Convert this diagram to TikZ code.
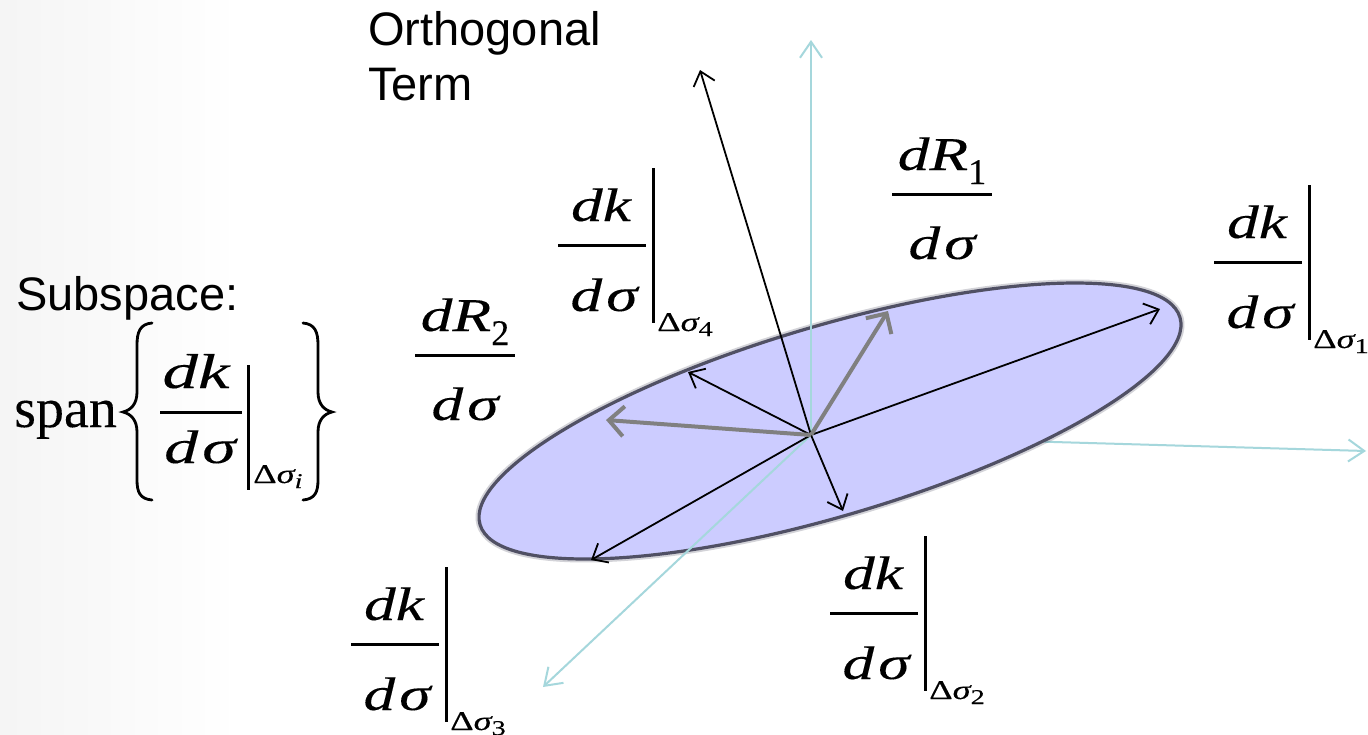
\documentclass[tikz,border=0pt]{standalone}
\usepackage{fontspec}
\usetikzlibrary{arrows.meta}
\newfontfamily\arialf{Liberation Sans}
\newfontfamily\tnr[FakeBold=0.15]{Liberation Serif}
\newfontfamily\tnrs[FakeStretch=1.35,FakeBold=0.2]{Liberation Serif}
\newfontfamily\tnrsb[FakeStretch=1.45,FakeBold=0.2]{Liberation Serif}
\definecolor{lav}{RGB}{204,204,255}
\definecolor{rim}{RGB}{80,80,100}
\definecolor{axc}{RGB}{165,215,220}
\definecolor{vgray}{RGB}{128,128,128}
\tikzset{
 mtit/.style={inner sep=0, font=\tnrs\itshape\fontsize{47}{50}\selectfont},
 mtsub/.style={inner sep=0, font=\tnrs\fontsize{27}{30}\selectfont},
 fracbar/.style={line width=3pt, line cap=butt},
 lbl/.style={inner sep=0, font=\arialf\fontsize{47}{55}\selectfont, align=left},
 vec/.style={line width=1.8pt, -{Straight Barb[length=13pt,width=22pt]}},
 rvec/.style={vgray, line width=4pt, -{Straight Barb[length=15pt,width=30pt]}},
 axisv/.style={axc, line width=2pt, -{Straight Barb[length=16pt,width=22pt]}},
 bracepath/.style={line width=2.8pt, line cap=round},
 dkfrac/.pic={
   \node[mtit, anchor=base] (-num) at (-1,-24) {dk};
   \node[mtit, anchor=base] (-den) at (2,66) {d\kern4pt σ};
   \draw[fracbar] (-44,0) -- (44,0);
   \draw[fracbar] (51,-77) -- (51,78);
   \node[mtsub, anchor=base west] (-sub) at (55,86) {Δ{\itshape σ}\raisebox{-5pt}{\fontsize{21}{22}\selectfont #1}};
 },
 dRfrac/.pic={
   \node[mtit, anchor=base] (-num) at (0,-24) {dR\raisebox{-14pt}{\tnr\upshape\fontsize{36}{40}\selectfont #1}};
   \node[mtit, anchor=base] (-den) at (0,65) {d\kern4pt σ};
   \draw[fracbar] (-50,0) -- (50,0);
 },
}
\begin{document}
\begin{tikzpicture}[x=1pt,y=-1pt]
\useasboundingbox (0,0) rectangle (1368,734);
\fill[white] (0,0) rectangle (1368,734);
\shade[left color=black!4, right color=white] (0,0) rectangle (240,734);

\coordinate (O) at (811,435);
\coordinate (axR) at (1366,451);
\coordinate (axU) at (811,40);
\coordinate (axD) at (543,687);
\draw[axisv] (O) -- (axR);

\draw[rim, line width=7pt, opacity=0.25, rotate around={16.5:(830,421)}] (830,421) ellipse [x radius=365, y radius=95];
\filldraw[fill=lav, draw=rim, line width=3.2pt, rotate around={16.5:(830,421)}] (830,421) ellipse [x radius=365, y radius=95];

\draw[axisv] (O) -- (axU);
\draw[axisv] (O) -- (axD);

\coordinate (t1) at (1160,309);
\coordinate (t2) at (843,511);
\coordinate (t3) at (591,560);
\coordinate (t4) at (688,372);
\coordinate (tO) at (700,70);
\coordinate (r1) at (888,311);
\coordinate (r2) at (606,420);
\draw[vec] (O) -- (tO);
\draw[vec] (O) -- (t1);
\draw[vec] (O) -- (t2);
\draw[vec] (O) -- (t3);
\draw[vec] (O) -- (t4);
\draw[rvec] (O) -- (r1);
\draw[rvec] (O) -- (r2);

\node[lbl, anchor=base west] (orth) at (368,100) {Orthogonal\\Term};
\node[lbl, anchor=base west] (subsp) at (16,310) {Subspace:};

\pic (k1) at (1258,262) {dkfrac=1};
\pic (k2) at (874,613) {dkfrac=2};
\pic (k3) at (395,644) {dkfrac=3};
\pic (k4) at (602,245) {dkfrac=4};
\pic (R1) at (942,194) {dRfrac=1};
\pic (R2) at (465,355) {dRfrac=2};

\node[inner sep=0, anchor=base west, font=\tnr\fontsize{56}{60}\selectfont] (span) at (14,427) {span};
\draw[bracepath] (152,323) .. controls (140,324) and (137,332) .. (137,345) -- (137,392) .. controls (137,404) and (131,410) .. (123,412) .. controls (131,414) and (137,420) .. (137,432) -- (137,480) .. controls (137,492) and (140,499) .. (152,500);
\draw[bracepath] (303,323) .. controls (315,324) and (318,332) .. (318,345) -- (318,392) .. controls (318,404) and (324,410) .. (332,412) .. controls (324,414) and (318,420) .. (318,432) -- (318,480) .. controls (318,492) and (315,499) .. (303,500);
\node[inner sep=0, anchor=base, font=\tnrsb\itshape\fontsize{49}{52}\selectfont] (spnum) at (196,388) {dk};
\node[inner sep=0, anchor=base, font=\tnrsb\itshape\fontsize{47}{52}\selectfont] (spden) at (200,463) {d\kern4pt σ};
\draw[fracbar] (160,412) -- (242,412);
\draw[fracbar] (248,365) -- (248,490);
\node[mtsub, anchor=base west] (spsub) at (253,483) {Δ{\itshape σ}\raisebox{-5pt}{\fontsize{21}{22}\selectfont\itshape i}};
\end{tikzpicture}
\end{document}
